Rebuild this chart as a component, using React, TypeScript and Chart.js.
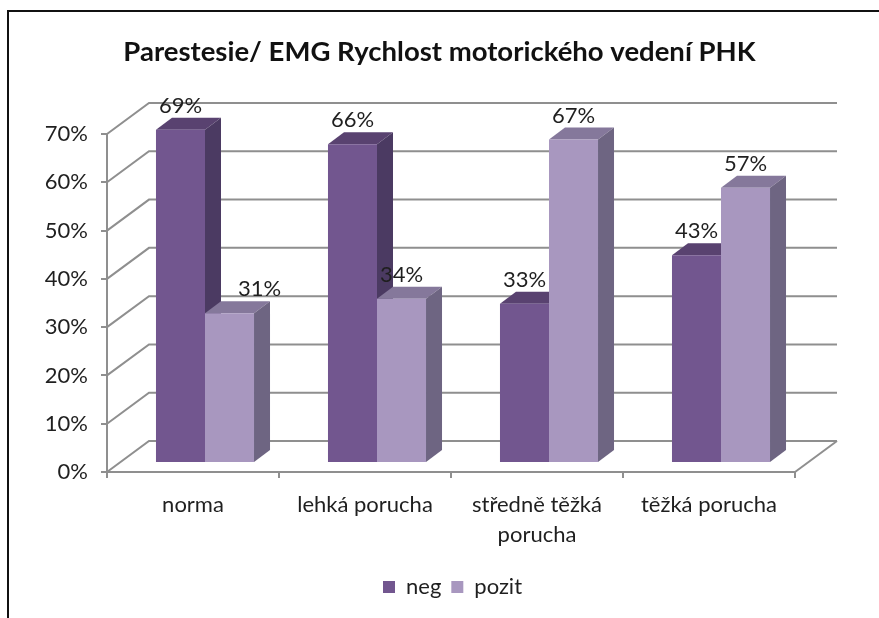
import React, { useEffect, useRef } from "react";
import { Chart, registerables } from "chart.js";

Chart.register(...registerables);

const categories: (string | string[])[] = ["norma", "lehká porucha", ["středně těžká", "porucha"], "těžká porucha"];
const negValues = [69, 66, 33, 43];
const pozitValues = [31, 34, 67, 57];
const yTicks = [0, 10, 20, 30, 40, 50, 60, 70];
const titleText = "Parestesie/ EMG Rychlost motorického vedení PHK";

const FONT = "Lato, Carlito, sans-serif";
const TEXT = "#1f1f1f";
const GRID = "#8f8f8f";
const NEG = { front: "#72568f", side: "#4b3a62", top: "#594270" };
const POZIT = { front: "#a897bf", side: "#6e6582", top: "#85789b" };
const WALL = { dx: 42, dy: -31 };
const BAR_SHIFT = { dx: 12, dy: -9 };
const DEPTH = { dx: 16, dy: -12 };

const frame3d = {
  id: "frame3d",
  afterLayout(chart: any) {
    const titleShift = 42;
    chart.titleBlock.left += titleShift;
    chart.titleBlock.right += titleShift;
    const legendShift = 55;
    chart.legend.left += legendShift;
    chart.legend.right += legendShift;
  },
  beforeDraw(chart: any) {
    const { ctx, width, height } = chart;
    ctx.save();
    ctx.fillStyle = "#ffffff";
    ctx.fillRect(0, 0, width, height);
    ctx.strokeStyle = "#111111";
    ctx.lineWidth = 2;
    ctx.beginPath();
    ctx.moveTo(8, height);
    ctx.lineTo(8, 11);
    ctx.lineTo(width, 11);
    ctx.stroke();
    ctx.restore();
  },
  beforeDatasetsDraw(chart: any) {
    const { ctx, chartArea, scales } = chart;
    ctx.save();
    ctx.strokeStyle = GRID;
    ctx.lineWidth = 2;
    for (const t of yTicks) {
      const y = scales.y.getPixelForValue(t);
      ctx.beginPath();
      ctx.moveTo(chartArea.left, y);
      ctx.lineTo(chartArea.left + WALL.dx, y + WALL.dy);
      ctx.lineTo(chartArea.right + WALL.dx, y + WALL.dy);
      ctx.stroke();
    }
    const y0 = scales.y.getPixelForValue(0);
    ctx.beginPath();
    ctx.moveTo(chartArea.right, y0);
    ctx.lineTo(chartArea.right + WALL.dx, y0 + WALL.dy);
    ctx.stroke();

    ctx.translate(BAR_SHIFT.dx, BAR_SHIFT.dy);
    [NEG, POZIT].forEach((c, i) => {
      chart.getDatasetMeta(i).data.forEach((el: any) => {
        const l = el.x - el.width / 2;
        const r = el.x + el.width / 2;
        ctx.fillStyle = c.top;
        ctx.beginPath();
        ctx.moveTo(l, el.y);
        ctx.lineTo(l + DEPTH.dx, el.y + DEPTH.dy);
        ctx.lineTo(r + DEPTH.dx, el.y + DEPTH.dy);
        ctx.lineTo(r, el.y);
        ctx.closePath();
        ctx.fill();
        ctx.fillStyle = c.side;
        ctx.beginPath();
        ctx.moveTo(r, el.y);
        ctx.lineTo(r + DEPTH.dx, el.y + DEPTH.dy);
        ctx.lineTo(r + DEPTH.dx, el.base + DEPTH.dy);
        ctx.lineTo(r, el.base);
        ctx.closePath();
        ctx.fill();
      });
    });
  },
  afterDatasetsDraw(chart: any) {
    const { ctx } = chart;
    ctx.restore();
    ctx.save();
    ctx.font = `22px ${FONT}`;
    ctx.fillStyle = TEXT;
    ctx.textAlign = "center";
    ctx.textBaseline = "middle";
    chart.data.datasets.forEach((ds: any, i: number) => {
      chart.getDatasetMeta(i).data.forEach((el: any, j: number) => {
        const moved = i === 1 && j === 0 ? 30 : 0;
        ctx.fillText(`${ds.data[j]}%`, el.x + BAR_SHIFT.dx + moved, el.y + BAR_SHIFT.dy - 24);
      });
    });
    ctx.restore();
  },
};

export default function App() {
  const ref = useRef<HTMLCanvasElement>(null);
  useEffect(() => {
    document.body.style.margin = "0";
    const chart = new Chart(ref.current!, {
      type: "bar",
      data: {
        labels: categories as any,
        datasets: [
          { label: "neg", data: negValues, backgroundColor: NEG.front, borderWidth: 0 },
          { label: "pozit", data: pozitValues, backgroundColor: POZIT.front, borderWidth: 0 },
        ],
      },
      options: {
        responsive: false,
        animation: false,
        layout: { padding: { left: 0, right: 84, top: 0, bottom: 10 } },
        datasets: { bar: { categoryPercentage: 0.57, barPercentage: 1 } },
        scales: {
          x: {
            grid: { drawOnChartArea: false, drawTicks: true, tickLength: 6, color: GRID, lineWidth: 2, offset: true },
            border: { color: GRID, width: 2 },
            ticks: { color: TEXT, font: { family: FONT, size: 22, lineHeight: 1.35 }, padding: 12, maxRotation: 0, autoSkip: false },
            afterFit: (s: any) => { s.height = 94; },
          },
          y: {
            min: 0,
            max: 70,
            grid: { drawOnChartArea: false, drawTicks: true, tickLength: 6, color: GRID, lineWidth: 2 },
            border: { color: GRID, width: 2 },
            ticks: { stepSize: 10, color: TEXT, font: { family: FONT, size: 22 }, padding: 13, callback: (v: any) => `${v}%` },
            afterFit: (s: any) => { s.width = 107; },
          },
        },
        plugins: {
          title: {
            display: true,
            text: titleText,
            color: "#111111",
            font: { family: FONT, size: 27.5, weight: "bold", lineHeight: 1.2 },
            padding: { top: 36, bottom: 65 },
          },
          legend: {
            display: true,
            position: "bottom",
            labels: { color: TEXT, font: { family: FONT, size: 22 }, boxWidth: 12, boxHeight: 12, padding: 10 },
          },
          tooltip: { enabled: false },
        },
      },
      plugins: [frame3d],
    } as any);
    return () => chart.destroy();
  }, []);
  return <canvas ref={ref} width={879} height={618} style={{ display: "block" }} />;
}
